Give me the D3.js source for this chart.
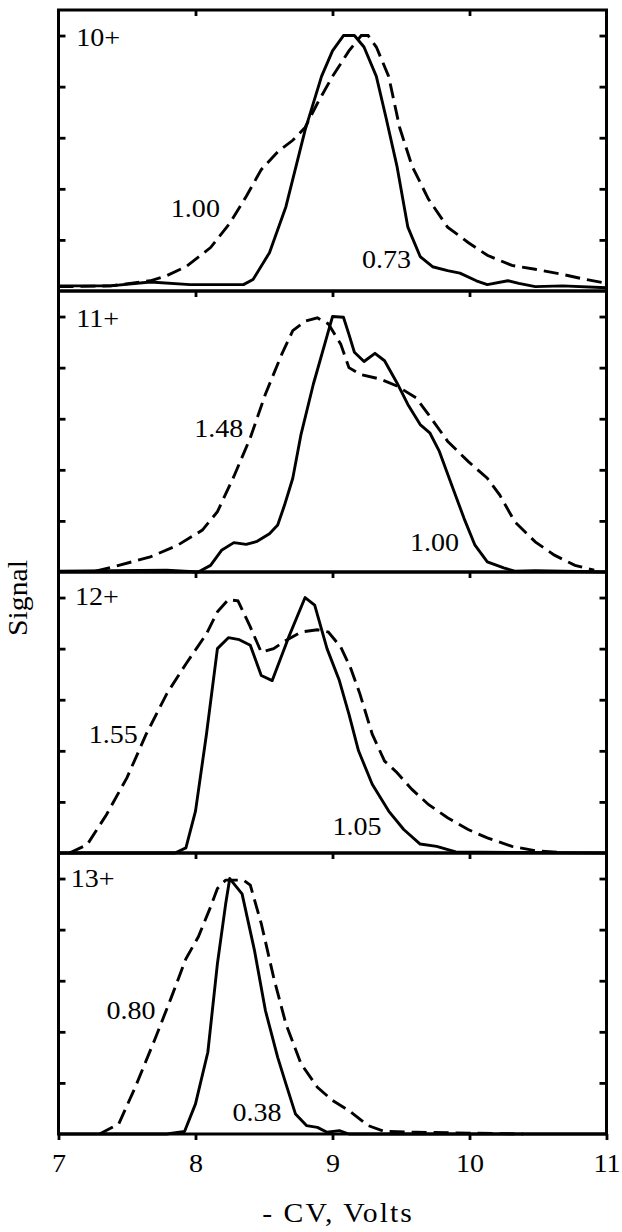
<!DOCTYPE html>
<html>
<head>
<meta charset="utf-8">
<script src="https://cdn.jsdelivr.net/npm/d3@7"></script>
<style>
  html, body { margin: 0; padding: 0; background: #fff; }
  svg { display: block; }
  text { font-family: "Liberation Serif", "DejaVu Serif", serif; fill: #000; }
</style>
</head>
<body>
<svg id="chart" width="622" height="1232"></svg>
<script>
// ---- Data ----
const panelLabels = ["10+", "11+", "12+", "13+"];
const solidLabels = ["0.73", "1.00", "1.05", "0.38"];
const dashedLabels = ["1.00", "1.48", "1.55", "0.80"];
const xTicks = [7, 8, 9, 10, 11];
const yTicks = [0.2, 0.4, 0.6, 0.8, 1.0];
const xTitle = "- CV, Volts";
const yTitle = "Signal";

// [CV, normalized signal]
const solid10 = [[7.0,0.02],[7.38,0.02],[7.67,0.035],[7.96,0.025],[8.35,0.025],[8.42,0.045],[8.54,0.15],[8.66,0.33],[8.80,0.63],[8.92,0.84],[9.00,0.94],[9.08,1.0],[9.16,1.0],[9.23,0.955],[9.32,0.84],[9.39,0.68],[9.47,0.49],[9.55,0.25],[9.64,0.135],[9.73,0.095],[9.84,0.08],[9.93,0.07],[10.05,0.04],[10.13,0.025],[10.28,0.04],[10.36,0.03],[10.48,0.017],[10.68,0.02],[11.0,0.013]];
const dashed10 = [[7.0,0.017],[7.38,0.02],[7.67,0.04],[7.79,0.06],[7.93,0.095],[8.11,0.17],[8.25,0.265],[8.37,0.37],[8.48,0.475],[8.60,0.545],[8.71,0.59],[8.80,0.64],[8.89,0.735],[9.00,0.84],[9.12,0.94],[9.21,1.0],[9.26,1.0],[9.32,0.955],[9.41,0.84],[9.49,0.64],[9.58,0.49],[9.70,0.36],[9.84,0.25],[9.99,0.19],[10.13,0.14],[10.31,0.10],[10.48,0.085],[10.68,0.065],[10.85,0.045],[11.0,0.03]];

const solid11 = [[7.0,0.003],[7.79,0.007],[8.02,0.0],[8.11,0.026],[8.19,0.085],[8.28,0.115],[8.37,0.108],[8.45,0.12],[8.54,0.15],[8.60,0.184],[8.65,0.262],[8.71,0.367],[8.77,0.538],[8.86,0.735],[8.95,0.905],[9.00,1.0],[9.08,0.997],[9.12,0.93],[9.16,0.86],[9.23,0.824],[9.31,0.856],[9.38,0.827],[9.47,0.741],[9.55,0.656],[9.64,0.577],[9.71,0.545],[9.78,0.472],[9.87,0.341],[9.96,0.21],[10.04,0.105],[10.13,0.04],[10.25,0.016],[10.33,0.003],[10.48,0.005],[11.0,0.0]];
const dashed11 = [[7.27,0.003],[7.44,0.026],[7.67,0.059],[7.87,0.105],[8.05,0.164],[8.16,0.236],[8.28,0.374],[8.40,0.525],[8.51,0.696],[8.63,0.853],[8.71,0.945],[8.80,0.982],[8.89,0.995],[8.97,0.971],[9.06,0.892],[9.12,0.80],[9.20,0.774],[9.35,0.755],[9.47,0.728],[9.61,0.682],[9.70,0.617],[9.84,0.512],[9.99,0.433],[10.13,0.367],[10.22,0.302],[10.33,0.197],[10.48,0.118],[10.62,0.066],[10.77,0.026],[10.91,0.007]];

const solid12 = [[7.0,0.0],[7.85,0.0],[7.93,0.02],[8.00,0.164],[8.08,0.465],[8.16,0.80],[8.24,0.843],[8.32,0.835],[8.40,0.813],[8.48,0.695],[8.56,0.675],[8.68,0.845],[8.80,1.0],[8.87,0.97],[8.96,0.80],[9.05,0.675],[9.12,0.544],[9.19,0.40],[9.29,0.269],[9.41,0.164],[9.52,0.092],[9.64,0.035],[9.76,0.026],[9.90,0.004],[11.0,0.0]];
const dashed12 = [[7.08,0.0],[7.21,0.033],[7.35,0.15],[7.50,0.295],[7.64,0.465],[7.79,0.623],[7.93,0.74],[8.08,0.858],[8.16,0.944],[8.24,0.992],[8.31,0.987],[8.40,0.885],[8.48,0.786],[8.57,0.80],[8.66,0.832],[8.77,0.865],[8.89,0.874],[8.97,0.865],[9.06,0.806],[9.13,0.727],[9.20,0.623],[9.29,0.465],[9.38,0.36],[9.47,0.315],[9.58,0.249],[9.70,0.19],[9.84,0.138],[9.99,0.092],[10.13,0.059],[10.31,0.026],[10.48,0.009],[10.65,0.003]];

const solid13 = [[7.0,0.0],[7.79,0.0],[7.92,0.01],[8.00,0.118],[8.09,0.32],[8.16,0.667],[8.22,0.90],[8.25,1.0],[8.34,0.94],[8.43,0.72],[8.51,0.484],[8.60,0.30],[8.66,0.196],[8.73,0.078],[8.81,0.033],[8.89,0.026],[8.96,0.007],[9.05,0.013],[9.12,0.0],[11.0,0.0]];
const dashed13 = [[7.30,0.0],[7.44,0.04],[7.56,0.183],[7.70,0.366],[7.82,0.53],[7.93,0.686],[8.02,0.771],[8.11,0.889],[8.16,0.961],[8.22,0.994],[8.29,0.994],[8.35,0.994],[8.40,0.974],[8.48,0.824],[8.57,0.614],[8.66,0.431],[8.77,0.275],[8.89,0.183],[9.00,0.131],[9.12,0.092],[9.26,0.033],[9.38,0.01],[9.61,0.007],[10.04,0.003],[10.39,0.0]];

const solidSeries = [solid10, solid11, solid12, solid13];
const dashedSeries = [dashed10, dashed11, dashed12, dashed13];

// label anchor positions in data units [CV, signal]
const panelLabelPos = [[7.13,0.96],[7.13,0.96],[7.12,0.97],[7.09,0.967]];
const solidLabelPos = [[9.215,0.09],[9.565,0.082],[9.00,0.07],[8.27,0.05]];
const dashedLabelPos = [[7.82,0.29],[7.99,0.528],[7.22,0.43],[7.35,0.45]];

// ---- Layout ----
const svg = d3.select("#chart");
const plotLeft = 58.5, plotRight = 606.5, plotTop = 10, panelH = 281;
const nP = 4;
const x = d3.scaleLinear().domain([7, 11]).range([plotLeft, plotRight]);
const yFor = i => d3.scaleLinear().domain([0, 1.1]).range([plotTop + (i + 1) * panelH, plotTop + i * panelH]);

const fs = 25.5;
const stretch = 1.1;
const lw = 2.9;

function addText(sel, px, py, str) {
  return sel.append("text")
    .attr("transform", `translate(${px},${py}) scale(${stretch},1)`)
    .attr("font-size", fs).text(str);
}

for (let i = 0; i < nP; i++) {
  const y = yFor(i);
  const g = svg.append("g");
  const line = d3.line().x(d => x(d[0])).y(d => y(d[1]));

  g.append("path").datum(solidSeries[i]).attr("d", line)
    .attr("fill", "none").attr("stroke", "#000").attr("stroke-width", lw)
    .attr("stroke-linejoin", "round");
  g.append("path").datum(dashedSeries[i]).attr("d", line)
    .attr("fill", "none").attr("stroke", "#000").attr("stroke-width", lw)
    .attr("stroke-dasharray", "15,7");

  // left & right axes with inward ticks
  g.append("g").attr("transform", `translate(${plotLeft},0)`)
    .call(d3.axisRight(y).tickValues(yTicks).tickSize(7).tickFormat(""))
    .call(a => a.select(".domain").remove())
    .call(a => a.selectAll("line").attr("stroke-width", 2.8));
  g.append("g").attr("transform", `translate(${plotRight},0)`)
    .call(d3.axisLeft(y).tickValues(yTicks).tickSize(7).tickFormat(""))
    .call(a => a.select(".domain").remove())
    .call(a => a.selectAll("line").attr("stroke-width", 2.8));

  // top ticks pointing inward (down)
  g.append("g").attr("transform", `translate(0,${y.range()[1]})`)
    .call(d3.axisBottom(x).tickValues(xTicks.slice(1, -1)).tickSize(6).tickFormat(""))
    .call(a => a.select(".domain").remove())
    .call(a => a.selectAll("line").attr("stroke-width", 2.8));

  // frame
  g.append("rect").attr("x", plotLeft).attr("y", y.range()[1])
    .attr("width", plotRight - plotLeft).attr("height", panelH)
    .attr("fill", "none").attr("stroke", "#000").attr("stroke-width", 3);

  // labels
  addText(g, x(panelLabelPos[i][0]), y(panelLabelPos[i][1]), panelLabels[i]);
  addText(g, x(solidLabelPos[i][0]), y(solidLabelPos[i][1]), solidLabels[i]);
  addText(g, x(dashedLabelPos[i][0]), y(dashedLabelPos[i][1]), dashedLabels[i]);
}

// bottom axis
const bottomY = plotTop + nP * panelH;
const xa = svg.append("g").attr("transform", `translate(0,${bottomY})`)
  .call(d3.axisBottom(x).tickValues(xTicks).tickSize(6).tickPadding(14).tickFormat(d3.format("d")));
xa.select(".domain").remove();
xa.selectAll("line").attr("stroke-width", 2.8);
xa.selectAll("text").attr("font-size", fs).attr("font-family", "Liberation Serif, serif")
  .attr("fill", "#000").attr("transform", `scale(${stretch},1)`);

svg.append("text").attr("transform", `translate(338,1222) scale(${stretch},1)`)
  .attr("text-anchor", "middle").attr("font-size", 27).attr("letter-spacing", 1.8)
  .text(xTitle);

svg.append("text").attr("transform", `translate(27,598) rotate(-90) scale(${stretch},1)`)
  .attr("text-anchor", "middle").attr("font-size", 27)
  .text(yTitle);
</script>
</body>
</html>
